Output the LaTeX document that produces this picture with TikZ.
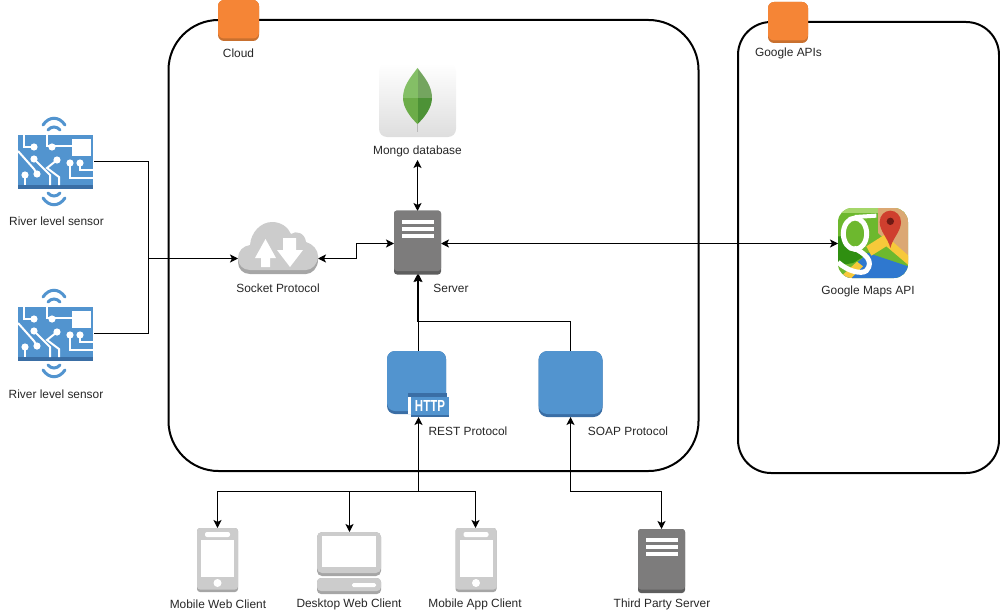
\documentclass[tikz,border=0pt]{standalone}
\usepackage{fontspec}
\setmainfont{Liberation Sans}
\usetikzlibrary{arrows.meta,calc}
\definecolor{blueM}{HTML}{5294CF}
\definecolor{blueD}{HTML}{3A6EA5}
\definecolor{orangeM}{HTML}{F58536}
\definecolor{orangeD}{HTML}{C8702F}
\definecolor{grayL}{HTML}{CCCCCC}
\definecolor{grayLD}{HTML}{A6A6A6}
\definecolor{grayM}{HTML}{7D7C7C}
\definecolor{grayD}{HTML}{5E5E5E}
\definecolor{leafA}{HTML}{84BF66}
\definecolor{leafB}{HTML}{74A55F}
\definecolor{leafC}{HTML}{6CAC48}
\definecolor{leafD}{HTML}{4D9236}
\definecolor{mapG}{HTML}{6DB82E}
\definecolor{mapGT}{HTML}{A5D66A}
\definecolor{mapGD}{HTML}{2F8F10}
\definecolor{mapT}{HTML}{DBA873}
\definecolor{mapB}{HTML}{2F78CF}
\definecolor{mapY}{HTML}{F7C93A}
\definecolor{mapR}{HTML}{CF3F2E}
\definecolor{mapH}{HTML}{6E1A14}
\tikzset{
  x=1pt,y=-1pt,
  frame/.style={draw=black,line width=2pt,fill=none},
  conn/.style={draw=black,line width=1pt},
  tip/.style={-{Stealth[length=8pt,width=8pt,inset=2pt]}},
  tips/.style={{Stealth[length=8pt,width=8pt,inset=2pt]}-{Stealth[length=8pt,width=8pt,inset=2pt]}},
  lbl/.style={inner sep=0pt,outer sep=0pt,font=\fontsize{11.9}{14}\selectfont,text=black!85},
  icon/.style={rectangle,inner sep=0pt,outer sep=0pt},
  pics/sensorart/.style={code={
    \fill[blueD] (-38,-26.5) rectangle (37,27.5);
    \fill[blueM] (-38,-26.5) rectangle (37,23.5);
    \fill[white] (16,-22.5) rectangle (35,-5.5);
    \begin{scope}[draw=white,line width=2pt]
      \draw (16,-15.5) -- (-4,-15.5);
      \draw (-9,-26.5) -- (-9,-15.5) -- (-4,-15.5);
      \draw (-32,-26.5) -- (-32,-14.5) -- (-22,-14.5);
      \draw (-38,-10.5) -- (-22,7.5) -- (-19,12.5);
      \draw (-22,-2.5) -- (-6,13.5) -- (-6,23.5);
      \draw (1,-1.5) -- (-9,6.5) -- (3,15.5) -- (3,23.5);
      \draw (-31,13.5) -- (-31,23.5);
      \draw (14,1.5) -- (14,16.5) -- (37,16.5);
      \draw (24,1.5) -- (24,8.5) -- (37,8.5);
    \end{scope}
    \foreach \p in {(-4,-14.5),(-22,-14.5),(-22,-2.5),(1,-1.5),(-19,12.5),(-31,13.5),(14,1.5),(24,1.5)}
      \fill[white] \p circle (3.6);
    \begin{scope}[draw=blueM,line width=3pt,line cap=round]
      \draw (-13,-36.5) .. controls (-7,-45.5) and (3,-45.5) .. (9,-36.5);
      \draw (-8,-31.5) .. controls (-5,-35.5) and (1,-35.5) .. (4,-31.5);
      \draw (-13,36.5) .. controls (-7,45.5) and (3,45.5) .. (9,36.5);
      \draw (-8,31.5) .. controls (-5,35.5) and (1,35.5) .. (4,31.5);
    \end{scope}
  }},
  pics/serverart/.style={code={
    \fill[grayD,rounded corners=3pt] (-23.5,-32) rectangle (23.5,32);
    \fill[grayM,rounded corners=3pt] (-23.5,-32) rectangle (23.5,28.5);
    \fill[white] (-16,-23) rectangle (16,-19);
    \fill[white] (-16,-16) rectangle (16,-12);
    \fill[white] (-16,-9) rectangle (16,-5);
  }},
  pics/phoneart/.style={code={
    \fill[grayLD,rounded corners=3pt] (-20.5,-32) rectangle (20.5,32);
    \fill[grayL,rounded corners=3pt] (-20.5,-32) rectangle (20.5,29.5);
    \fill[white,rounded corners=2pt] (-12.5,-28) rectangle (12.5,-23);
    \fill[white] (-16.5,-20) rectangle (16.5,17);
    \fill[white] (0,23) circle (4);
  }},
}
\begin{document}
\begin{tikzpicture}
\useasboundingbox (0,0) rectangle (1000,615);
% frames
\node[icon,frame,minimum width=530pt,minimum height=451pt,rounded corners=50pt] (cloudbox) at (433.5,245.5) {};
\node[icon,frame,minimum width=261pt,minimum height=451pt,rounded corners=33pt] (googlebox) at (868.5,247.5) {};
% nodes
\node[icon,minimum width=76pt,minimum height=54pt] (s1) at (56,161.5) {};
\node[icon,minimum width=76pt,minimum height=54pt] (s2) at (56,333.5) {};
\node[icon,minimum width=80pt,minimum height=52pt] (cloudicon) at (278,248) {};
\node[icon,minimum width=47pt,minimum height=63pt] (server) at (417.5,242.5) {};
\node[icon,minimum width=77pt,minimum height=74pt] (mongo) at (417.5,100) {};
\node[icon,minimum width=70pt,minimum height=70pt] (maps) at (873,243.5) {};
\node[icon,minimum width=59pt,minimum height=63pt,fill=blueD,rounded corners=8pt] (rest) at (416.5,382.5) {};
\node[icon,minimum width=64pt,minimum height=66pt,fill=blueD,rounded corners=9pt] (soap) at (570.5,384) {};
\node[icon,minimum width=41pt,minimum height=64pt] (mobileweb) at (217.5,560) {};
\node[icon,minimum width=64pt,minimum height=62pt] (desktop) at (349.5,563) {};
\node[icon,minimum width=41pt,minimum height=64pt] (mobileapp) at (475.5,560) {};
\node[icon,minimum width=47pt,minimum height=64pt] (third) at (661.5,561) {};
\node[icon,minimum width=41pt,minimum height=24pt] (http) at (428.5,405) {};
% connector helpers
\coordinate (cloudL) at (238,258.5);
\coordinate (cloudR) at (318,258.5);
\coordinate (sj) at (148.5,258.5);
\coordinate (bend) at (356.5,258.5);
\coordinate (mongoB) at (417.5,160);
\coordinate (restT) at (418.5,351);
\coordinate (jn) at (417.5,321.5);
\coordinate (bus) at (418.5,491.5);
\coordinate (soapbus) at (570.5,491.5);
% connectors
\draw[conn] (s1.east) -| (sj);
\draw[conn,tip] (s2.east) -| (sj) -- (cloudL);
\draw[conn,tips] (cloudR) -- (bend) |- ([yshift=-1pt]server.west);
\draw[conn,tips] (server.north) -- (mongoB);
\draw[conn,tips] ([yshift=-1pt]server.east) -- (maps.west);
\draw[conn,tip] (restT) -- (restT |- server.south);
\draw[conn,tip] (soap.north) |- (jn) -- (server.south);
\draw[conn,tip] (bus) -- (bus |- http.south);
\draw[conn,tip] (bus) -| (mobileweb.north);
\draw[conn,tip] (bus) -| (desktop.north);
\draw[conn,tip] (bus) -| (mobileapp.north);
\draw[conn,tip] (soapbus) -- (soap.south);
\draw[conn,tip] (soapbus) -| (third.north);
% orange tags
\node[icon,minimum width=41pt,minimum height=41pt,fill=orangeD,rounded corners=6pt] (tagcloud) at (238.5,20.5) {};
\fill[orangeM,rounded corners=6pt] (tagcloud.north west) rectangle ([yshift=2.5pt]tagcloud.south east);
\node[icon,minimum width=40pt,minimum height=41pt,fill=orangeD,rounded corners=6pt] (taggoogle) at (788,22.5) {};
\fill[orangeM,rounded corners=6pt] (taggoogle.north west) rectangle ([yshift=2.5pt]taggoogle.south east);
% sensors
\pic at (s1) {sensorart};
\pic at (s2) {sensorart};
% socket cloud
\fill[grayLD] (250,274) .. controls (243,274) and (238,269) .. (238,262) -- (238,258) -- (318,256) -- (318,260) .. controls (318,268) and (312,274) .. (306,274) -- cycle;
\fill[grayL] (250,270) .. controls (243,270) and (238,265) .. (238,258) .. controls (238,251) and (243,246) .. (250,245) .. controls (251,232) and (261,222) .. (272,222) .. controls (281,222) and (288,227) .. (291,234) .. controls (296,230) and (305,233) .. (306,242) .. controls (313,244) and (318,250) .. (318,256) .. controls (318,264) and (312,270) .. (306,270) -- cycle;
\fill[white] (265.5,239) -- (276,258) -- (270,258) -- (270,267) -- (261,267) -- (261,258) -- (255,258) -- cycle;
\fill[white] (290,267) -- (277,250) -- (283,250) -- (283,238) -- (296,238) -- (296,250) -- (303,250) -- cycle;
% servers
\pic at (server) {serverart};
\pic at (third) {serverart};
% mongo
\shade[top color=white,bottom color=black!13,rounded corners=8pt] (mongo.north west) rectangle (mongo.south east);
\fill[black!28] (416.8,118) rectangle (418.2,132);
\begin{scope}
  \clip (417.5,68) .. controls (425,78) and (432,86) .. (432,98) .. controls (432,108) and (424,118) .. (417.5,124) .. controls (411,118) and (403,108) .. (403,98) .. controls (403,86) and (410,78) .. (417.5,68) -- cycle;
  \fill[leafA] (400,66) rectangle (417.5,98);
  \fill[leafB] (417.5,66) rectangle (435,98);
  \fill[leafC] (400,98) rectangle (417.5,126);
  \fill[leafD] (417.5,98) rectangle (435,126);
\end{scope}
% google maps icon, drawn in crop coordinates (3 units per pixel)
\begin{scope}[shift={(833,203)},xscale=1/3,yscale=1/3]
  \begin{scope}
    \clip[rounded corners=14pt] (15,15) rectangle (225,225);
    \fill[mapG] (0,0) rectangle (240,240);
    \fill[mapGT] (0,0) rectangle (240,30);
    \fill[mapGD] (0,100) -- (30,100) -- (60,145) -- (110,150) -- (60,180) -- (0,190) -- cycle;
    \fill[mapT] (135,15) -- (240,15) -- (240,185) -- (135,90) -- cycle;
    \fill[mapB] (0,240) -- (60,190) -- (105,150) -- (240,195) -- (240,240) -- cycle;
    \fill[mapY] (100,130) -- (155,95) -- (240,170) -- (240,198) -- (160,130) -- (115,158) -- cycle;
    \fill[mapY] (22,222) -- (72,176) -- (90,190) -- (45,235) -- cycle;
    \draw[white,line width=5pt] (66,92) ellipse (35 and 47);
    \draw[white,line width=4pt] (66,42) -- (130,38);
    \draw[white,line width=5pt] (62,135) .. controls (95,150) and (125,175) .. (100,203) .. controls (85,215) and (45,205) .. (15,178);
  \end{scope}
  \fill[mapR] (172,135) .. controls (165,105) and (140,85) .. (140,57) .. controls (140,37) and (155,23) .. (172,23) .. controls (189,23) and (204,37) .. (204,57) .. controls (204,85) and (179,105) .. (172,135) -- cycle;
  \fill[mapH] (172,55) circle (11);
\end{scope}
% rest and soap
\fill[blueM,rounded corners=8pt] (rest.north west) rectangle ([yshift=3pt]rest.south east);
\fill[blueM,rounded corners=9pt] (soap.north west) rectangle ([yshift=3pt]soap.south east);
\fill[blueD] (408,393) rectangle (447,397);
\fill[white] (408,397) rectangle (411,414);
\fill[blueM] (411,397) rectangle (449,415);
\fill[blueD] (411,415) rectangle (449,417);
\node[inner sep=0pt,text=white,font=\fontsize{16}{16}\selectfont\bfseries,xscale=0.72] (httptext) at (430,406) {HTTP};
% phones
\pic at (mobileweb) {phoneart};
\pic at ([xshift=.5pt]mobileapp) {phoneart};
% desktop
\fill[grayLD,rounded corners=5pt] (317,532) rectangle (381,576);
\fill[grayL,rounded corners=5pt] (317,532) rectangle (381,573);
\fill[white] (322,536) rectangle (376,567);
\fill[grayLD,rounded corners=4pt] (317,578) rectangle (381,594);
\fill[grayL,rounded corners=4pt] (317,578) rectangle (381,591);
\fill[white,rounded corners=1.5pt] (352,583) rectangle (376,587);
% labels
\node[lbl] (l1) at (56.5,221) {River level sensor};
\node[lbl] (l2) at (56,394) {River level sensor};
\node[lbl] (l3) at (238.5,53) {Cloud};
\node[lbl] (l4) at (788.5,53.7) {Google APIs};
\node[lbl] (l5) at (417.5,151.7) {Mongo database};
\node[lbl] (l6) at (278,288) {Socket Protocol};
\node[lbl] (l7) at (451,288) {Server};
\node[lbl] (l8) at (868,291.7) {Google Maps API};
\node[lbl] (l9) at (468,431) {REST Protocol};
\node[lbl] (l10) at (628,431) {SOAP Protocol};
\node[lbl] (l11) at (218,604) {Mobile Web Client};
\node[lbl] (l12) at (349,604) {Desktop Web Client};
\node[lbl] (l13) at (475,604) {Mobile App Client};
\node[lbl] (l14) at (662,604) {Third Party Server};
\end{tikzpicture}
\end{document}
